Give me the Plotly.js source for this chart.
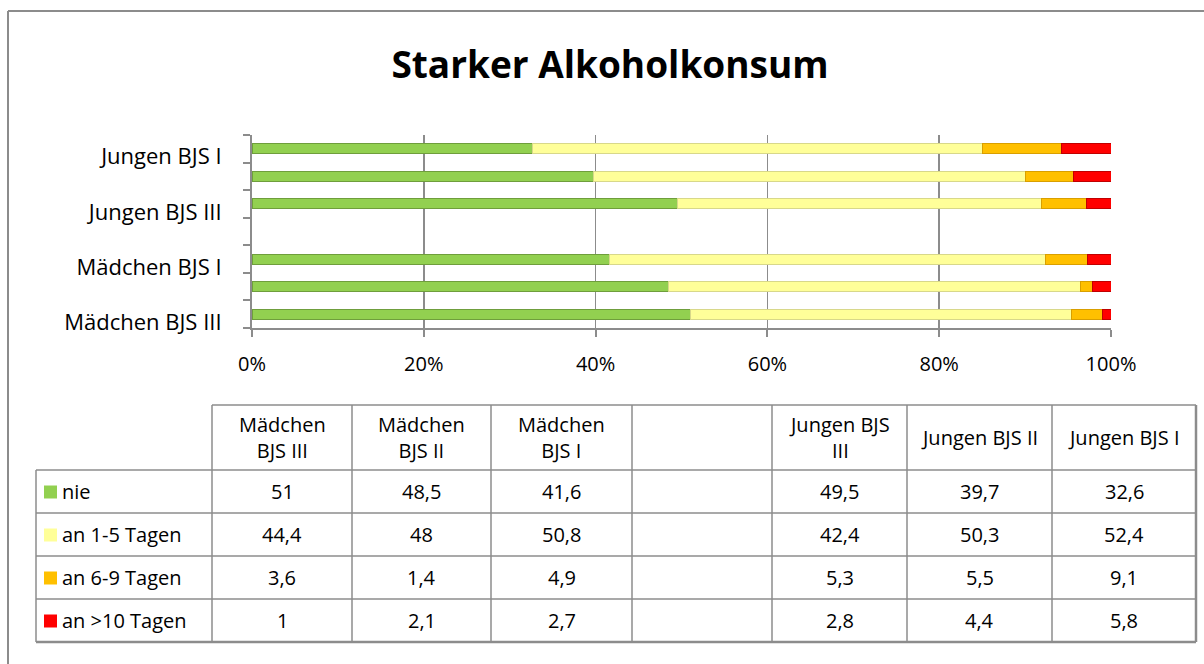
<!DOCTYPE html>
<html>
<head>
<meta charset="utf-8">
<script src="https://cdn.plot.ly/plotly-3.0.1.min.js"></script>
<style>html,body{margin:0;padding:0;background:#fff;}#chart{width:1204px;height:664px;}</style>
</head>
<body>
<div id="chart"></div>
<script>
// ---- data ----
const categories = ["Mädchen BJS III", "Mädchen BJS II", "Mädchen BJS I", "", "Jungen BJS III", "Jungen BJS II", "Jungen BJS I"];
const headerLabels = ["Mädchen<br>BJS III", "Mädchen<br>BJS II", "Mädchen<br>BJS I", "", "Jungen BJS<br>III", "Jungen BJS II", "Jungen BJS I"];
const seriesNames = ["nie", "an 1-5 Tagen", "an 6-9 Tagen", "an >10 Tagen"];
const nie      = [51,   48.5, 41.6, null, 49.5, 39.7, 32.6];
const tage1_5  = [44.4, 48,   50.8, null, 42.4, 50.3, 52.4];
const tage6_9  = [3.6,  1.4,  4.9,  null, 5.3,  5.5,  9.1];
const tage10   = [1,    2.1,  2.7,  null, 2.8,  4.4,  5.8];
const yLabelIdx = [0, 2, 4, 6];
const xTicks = [0, 20, 40, 60, 80, 100];

// ---- styling ----
const colors = ["#92D050", "#FFFF99", "#FFC000", "#FF0000"];
const lineColors = ["#6f9e3c", "#d8d88a", "#d99f00", "#c00000"];
const FONT = "'Open Sans', Lato, sans-serif";
const W = 1204, H = 664;
const px = x => x / W;
const py = y => 1 - y / H;

const allSeries = [nie, tage1_5, tage6_9, tage10];
const yPos = categories.map((c, i) => i);

const traces = allSeries.map((vals, k) => ({
  type: "bar",
  orientation: "h",
  name: seriesNames[k],
  y: yPos,
  x: vals,
  width: 0.36,
  marker: {color: colors[k], line: {color: lineColors[k], width: 1}},
  hoverinfo: "x+name",
  showlegend: false
}));

// ---- table (shapes + annotations) ----
const colEdges = [36, 212, 352, 491, 632, 772, 907, 1052, 1196];
const headTop = 405, headBot = 470;
const rowEdges = [470, 513, 556, 599, 642];
const shapes = [];
const annotations = [];
const gray = "#8c8c8c";
const TS = 20;
function line(x0, y0, x1, y1, w) {
  shapes.push({type: "line", xref: "paper", yref: "paper", x0: px(x0), y0: py(y0), x1: px(x1), y1: py(y1), line: {color: gray, width: w || 1.5}});
}
// outer frame
line(8, 11, W + 5, 11, 2);
line(8, 11, 8, H + 5, 2);
// header horizontal
line(colEdges[1], headTop, colEdges[colEdges.length - 1], headTop);
// row horizontals
rowEdges.forEach((y, i) => line(colEdges[0], y, colEdges[colEdges.length - 1], y, i === rowEdges.length - 1 ? 2.5 : 1.5));
// verticals
colEdges.forEach((x, i) => {
  const top = i === 0 ? rowEdges[0] : headTop;
  line(x, top, x, rowEdges[rowEdges.length - 1], i === colEdges.length - 1 ? 2.5 : 1.5);
});
// header text
headerLabels.forEach((t, i) => {
  if (!t) return;
  annotations.push({xref: "paper", yref: "paper", x: px((colEdges[i + 1] + colEdges[i + 2]) / 2), y: py((headTop + headBot) / 2),
    text: t, showarrow: false, xanchor: "center", yanchor: "middle", align: "center",
    font: {family: FONT, size: TS, color: "#000"}});
});
const fmt = v => v === null ? "" : String(v).replace(".", ",");
seriesNames.forEach((name, r) => {
  const yc = (rowEdges[r] + rowEdges[r + 1]) / 2;
  shapes.push({type: "rect", xref: "paper", yref: "paper", x0: px(44), x1: px(57), y0: py(yc + 7), y1: py(yc - 6), fillcolor: colors[r], line: {width: 0}});
  annotations.push({xref: "paper", yref: "paper", x: px(60), y: py(yc), text: name, showarrow: false, xanchor: "left", yanchor: "middle",
    font: {family: FONT, size: TS, color: "#000"}});
  allSeries[r].forEach((v, c) => {
    if (v === null) return;
    annotations.push({xref: "paper", yref: "paper", x: px((colEdges[c + 1] + colEdges[c + 2]) / 2), y: py(yc), text: fmt(v), showarrow: false,
      xanchor: "center", yanchor: "middle", font: {family: FONT, size: TS, color: "#000"}});
  });
});

const layout = {
  width: W, height: H,
  margin: {l: 0, r: 0, t: 0, b: 0},
  paper_bgcolor: "#fff", plot_bgcolor: "#fff",
  title: {text: "<b>Starker Alkoholkonsum</b>", x: px(610), xanchor: "center", y: py(65), yanchor: "middle",
    font: {family: FONT, size: 37, color: "#000"}},
  barmode: "stack",
  barnorm: "percent",
  bargap: 0,
  xaxis: {
    domain: [px(252), px(1111)], range: [0, 100],
    tickvals: xTicks, ticktext: xTicks.map(v => v + "%"),
    showgrid: true, gridcolor: gray, gridwidth: 1.5,
    showline: true, linecolor: gray, linewidth: 2,
    ticks: "outside", ticklen: 7, tickcolor: gray, tickwidth: 2,
    ticklabelstandoff: 10,
    tickfont: {family: FONT, size: 20, color: "#000"},
    zeroline: false, fixedrange: true
  },
  yaxis: {
    domain: [py(328), py(135)], range: [-0.5, 6.5],
    tickvals: yLabelIdx, ticktext: yLabelIdx.map(i => categories[i]),
    ticks: "", showgrid: false, zeroline: false,
    showline: true, linecolor: gray, linewidth: 2,
    ticklabelstandoff: 24,
    ticklabelshift: 8,
    tickfont: {family: FONT, size: 22, color: "#000"},
    minor: {tick0: -0.5, dtick: 1, ticks: "outside", ticklen: 7, tickcolor: gray, tickwidth: 2, showgrid: false},
    fixedrange: true
  },
  shapes: shapes,
  annotations: annotations
};

Plotly.newPlot("chart", traces, layout, {displayModeBar: false, staticPlot: true});
</script>
</body>
</html>
